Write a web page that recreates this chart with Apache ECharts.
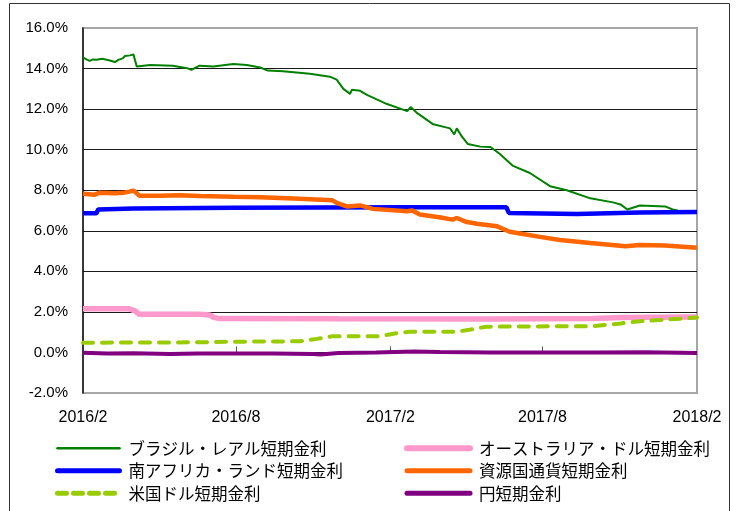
<!DOCTYPE html>
<html><head><meta charset="utf-8">
<script src="https://cdn.jsdelivr.net/npm/echarts@6/dist/echarts.min.js"></script>
<style>html,body{margin:0;padding:0;background:#fff}#c{width:739px;height:511px}</style>
</head><body><div id="c"></div>
<script>
const seriesNames = ['ブラジル・レアル短期金利','オーストラリア・ドル短期金利','南アフリカ・ランド短期金利','資源国通貨短期金利','米国ドル短期金利','円短期金利'];
const xTickDates = ['2016-02-01','2016-08-01','2017-02-01','2017-08-01','2018-02-01'];
const xTickLabels = ['2016/2','2016/8','2017/2','2017/8','2018/2'];
const yMin = -2, yMax = 16, yStep = 2;

const brazil = [
['2016-02-01',14.55],['2016-02-05',14.45],['2016-02-09',14.38],['2016-02-13',14.45],['2016-02-17',14.43],['2016-02-24',14.48],['2016-03-04',14.4],
['2016-03-10',14.32],['2016-03-14',14.43],['2016-03-19',14.5],['2016-03-22',14.62],['2016-03-24',14.7],['2016-03-28',14.65],['2016-04-01',14.7],
['2016-04-05',14.1],['2016-04-21',14.17],['2016-05-18',14.14],['2016-06-04',14.02],['2016-06-09',13.94],
['2016-06-19',14.14],['2016-07-05',14.1],['2016-07-29',14.22],['2016-08-14',14.17],['2016-08-30',14.05],
['2016-09-08',13.9],['2016-09-26',13.87],['2016-10-28',13.74],['2016-11-21',13.6],['2016-11-29',13.45],
['2016-12-07',13.0],['2016-12-15',12.75],['2016-12-17',12.95],['2016-12-27',12.9],['2017-01-04',12.7],
['2017-01-28',12.25],['2017-02-21',11.9],['2017-02-25',12.1],['2017-03-05',11.8],['2017-03-24',11.25],
['2017-04-13',11.05],['2017-04-18',10.75],['2017-04-21',11.05],['2017-04-27',10.65],['2017-05-04',10.28],
['2017-05-19',10.15],['2017-05-31',10.13],['2017-06-11',9.8],['2017-06-27',9.2],['2017-07-17',8.85],
['2017-08-10',8.2],['2017-08-30',8.0],['2017-09-27',7.6],['2017-10-24',7.4],['2017-11-02',7.3],
['2017-11-10',7.05],['2017-11-25',7.25],['2017-12-25',7.2],['2018-01-03',7.05],['2018-01-09',7.0]
];
const australia = [
['2016-02-01',2.15],['2016-03-27',2.15],['2016-04-03',2.05],['2016-04-08',1.88],['2016-06-19',1.88],
['2016-07-01',1.85],['2016-07-05',1.74],['2016-07-12',1.67],['2016-12-01',1.66],['2017-06-01',1.65],
['2017-10-01',1.67],['2017-11-02',1.72],['2018-02-01',1.75]
];
const southAfrica = [
['2016-02-01',6.86],['2016-02-17',6.86],['2016-02-19',7.05],['2016-04-01',7.1],['2016-07-29',7.14],
['2017-02-24',7.16],['2017-06-19',7.16],['2017-06-22',6.88],['2017-09-11',6.83],['2017-11-25',6.9],
['2018-02-01',6.93]
];
const resource = [
['2016-02-01',7.83],['2016-02-15',7.78],['2016-02-21',7.88],['2016-03-10',7.85],['2016-03-21',7.88],
['2016-03-27',7.93],['2016-04-01',7.98],['2016-04-05',7.85],['2016-04-08',7.73],['2016-05-02',7.73],
['2016-05-26',7.75],['2016-06-19',7.72],['2016-07-29',7.68],['2016-08-30',7.65],['2016-10-16',7.58],
['2016-11-24',7.5],['2016-11-29',7.38],['2016-12-11',7.2],['2016-12-27',7.25],['2017-01-11',7.08],
['2017-02-21',6.96],['2017-02-27',7.0],['2017-03-08',6.8],['2017-03-31',6.67],['2017-04-16',6.55],
['2017-04-21',6.63],['2017-05-03',6.43],['2017-05-15',6.35],['2017-06-08',6.22],['2017-06-23',5.95],
['2017-07-29',5.7],['2017-08-22',5.55],['2017-09-27',5.4],['2017-11-08',5.24],['2017-11-25',5.3],
['2017-12-25',5.27],['2018-02-01',5.16]
];
const usd = [
['2016-02-01',0.48],['2016-06-19',0.5],['2016-07-29',0.53],['2016-10-16',0.55],['2016-11-05',0.67],
['2016-11-24',0.8],['2017-01-19',0.8],['2017-02-08',0.95],['2017-02-24',1.02],['2017-04-21',1.02],
['2017-05-06',1.12],['2017-05-26',1.27],['2017-10-02',1.3],['2017-11-02',1.43],['2017-11-25',1.54],
['2017-12-19',1.6],['2018-02-01',1.72]
];
const yen = [
['2016-02-01',-0.02],['2016-03-01',-0.05],['2016-04-01',-0.04],['2016-05-15',-0.08],['2016-06-15',-0.05],
['2016-08-01',-0.05],['2016-09-15',-0.05],['2016-11-01',-0.08],['2016-11-10',-0.1],['2016-12-01',-0.03],
['2017-01-15',0.0],['2017-03-01',0.05],['2017-04-01',0.02],['2017-06-01',0.0],['2017-08-01',0.0],
['2017-10-01',0.0],['2017-12-01',0.01],['2018-02-01',-0.03]
];

const seriesData = [brazil, australia, southAfrica, resource, usd, yen];
const colors = ['#008000','#ff99cc','#0000ff','#ff6600','#99cc00','#800080'];
const widths = [2, 5.5, 4.5, 4.5, 4, 4];
const legendWidths = [2.5, 6, 5, 5, 5, 5];

const ts = d => Date.UTC(+d.slice(0,4), +d.slice(5,7)-1, +d.slice(8,10));
const tickTs = xTickDates.map(ts);
const chart = echarts.init(document.getElementById('c'));
const legendText = {fontFamily:'"Noto Sans CJK JP", sans-serif', fontSize:16.5, color:'#000', padding:[0,0,0,4]};
const legendItem = i => ({name:seriesNames[i], lineStyle:{width:legendWidths[i], cap:'round', color:colors[i], type: i===4 ? [9,7] : 'solid'}});
const legendBase = {orient:'vertical', top:435, height:100, itemHeight:16, itemGap:6,
  textStyle:legendText, selectedMode:false, itemStyle:{opacity:0, borderWidth:0}};
chart.setOption({
  animation:false,
  graphic:[{type:'rect', shape:{x:9.5,y:3.5,width:720,height:540}, style:{fill:'none',stroke:'#333',lineWidth:1}, silent:true}],
  grid:{left:83, right:42, top:28, bottom:118, show:true, borderColor:'#a6a6a6', borderWidth:2, containLabel:false},
  legend:[
    Object.assign({left:50, itemWidth:62, data:[legendItem(0), legendItem(2), legendItem(4)]}, legendBase),
    Object.assign({left:399, itemWidth:63, data:[legendItem(1), legendItem(3), legendItem(5)]}, legendBase)
  ],
  xAxis:[
    {type:'value', min:tickTs[0], max:tickTs[tickTs.length-1], position:'bottom',
     axisLine:{show:false, onZero:false}, axisTick:{show:false}, splitLine:{show:false},
     axisLabel:{customValues:tickTs, margin:17, fontSize:16, color:'#000', fontFamily:'"Liberation Sans", Arial, sans-serif',
       formatter:function(v){ const i = tickTs.indexOf(+v); return i>=0 ? xTickLabels[i] : ''; }}},
    {type:'value', min:tickTs[0], max:tickTs[tickTs.length-1], position:'bottom',
     axisLine:{show:true, onZero:true, lineStyle:{color:'rgba(0,0,0,0)'}},
     axisTick:{show:true, inside:true, length:6, customValues:tickTs.slice(1,-1), lineStyle:{color:'#555', width:1}},
     axisLabel:{show:false}, splitLine:{show:false}}
  ],
  yAxis:{type:'value', min:yMin, max:yMax, interval:yStep,
    axisLine:{show:true, lineStyle:{color:'#111', width:1.5}}, axisTick:{show:false},
    splitLine:{show:true, showMinLine:false, showMaxLine:false, lineStyle:{color:'#1a1a1a', width:1}},
    axisLabel:{margin:15, fontSize:15, color:'#000', fontFamily:'"Liberation Sans", Arial, sans-serif',
      formatter:function(v){ return v.toFixed(1)+'%'; }}},
  series: seriesNames.map((n,i)=>({
    name:n, type:'line', data:seriesData[i].map(p=>[ts(p[0]), p[1]]), symbol:'none', showSymbol:false, xAxisIndex:0,
    lineStyle:{color:colors[i], width:widths[i], type: i===4 ? [10,9] : 'solid', cap: i===4 ? 'round':'butt'},
    itemStyle:{color:colors[i]}, z:2+i
  }))
});
</script></body></html>
